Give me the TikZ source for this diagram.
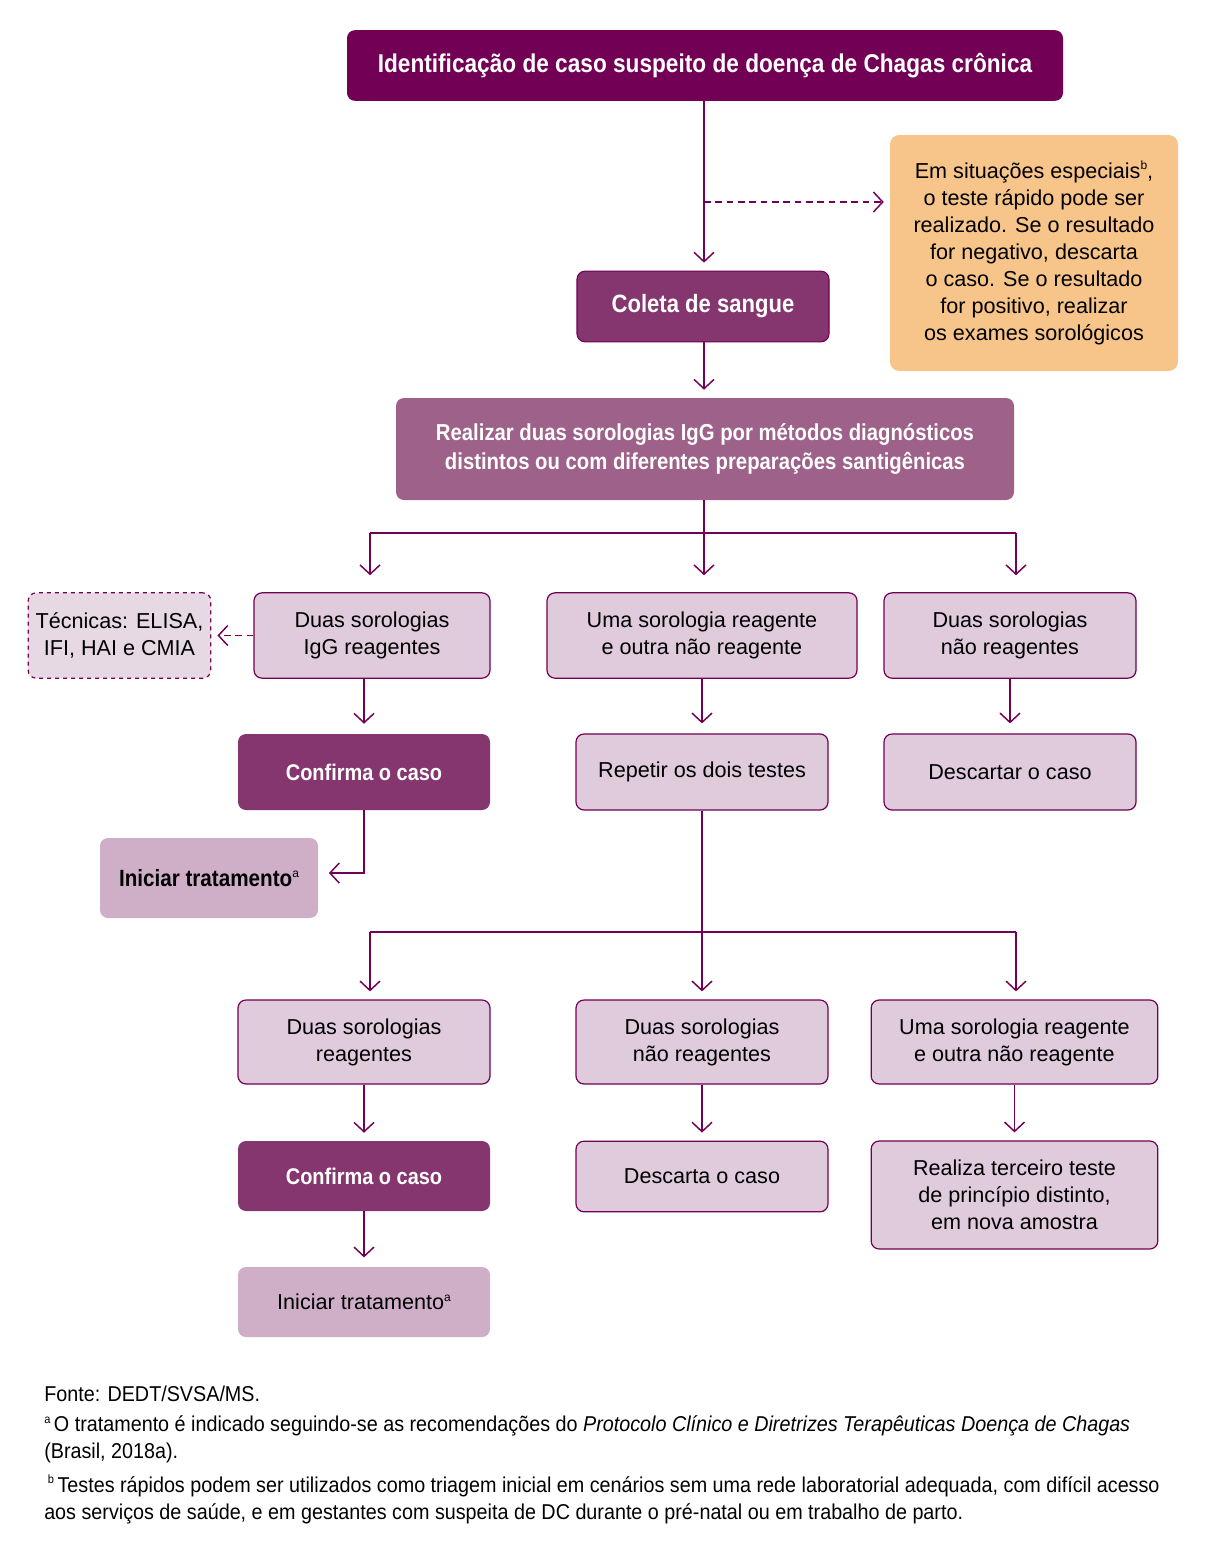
\documentclass[tikz,border=0pt]{standalone}
\usepackage{fontspec}
\setmainfont{Liberation Sans}[BoldFeatures={FakeStretch=0.88}]
\newfontfamily\notefont{Liberation Sans}[FakeStretch=0.92]
\usetikzlibrary{positioning, arrows.meta, calc}
\definecolor{plum}{HTML}{720054}
\definecolor{plummid}{HTML}{85366F}
\definecolor{plumsoft}{HTML}{9E6189}
\definecolor{lilac}{HTML}{DFCBDC}
\definecolor{lilacpale}{HTML}{E7D9E4}
\definecolor{mauve}{HTML}{CFAFC8}
\definecolor{peach}{HTML}{F7C48A}
\newcommand{\linecolor}{plum}
\newcommand{\boxfont}{\fontsize{16.2}{20.25}\selectfont}
\newcommand{\nota}[1]{\raisebox{0.75ex}{\fontsize{9}{9}\selectfont\mdseries #1}}
\tikzset{
	box/.style={rectangle, rounded corners=6pt, align=center, inner sep=3pt, font=\boxfont},
	titlebox/.style={box, fill=plum, text=white, font=\fontsize{19.3}{22}\selectfont\bfseries},
	midbox/.style={box, fill=plummid, text=white, font=\fontsize{17}{21}\selectfont\bfseries},
	softbox/.style={box, fill=plumsoft, text=white, font=\fontsize{17.3}{21.5}\selectfont\bfseries},
	lightbox/.style={box, fill=lilac, draw=\linecolor, line width=0.9pt},
	pastebox/.style={box, fill=mauve},
	notebox/.style={box, fill=peach, rounded corners=7pt},
	tecbox/.style={box, fill=lilacpale, draw=\linecolor, line width=0.9pt, dashed},
	link/.style={draw=\linecolor, line width=1.1pt},
	arr/.style={link, -{Straight Barb[length=7pt,width=15pt,line width=1.1pt]}, shorten >=6pt},
	dasharr/.style={arr, dash pattern=on 5pt off 3.5pt, shorten >=4.5pt},
	footnote/.style={font=\notefont\fontsize{16.1}{20.25}\selectfont, align=left, inner sep=0pt}
}
\begin{document}
\begin{tikzpicture}[x=0.75pt,y=-0.75pt]
	\useasboundingbox (0,0) rectangle (1216,1556);
	%% topo
	\node[titlebox, minimum width=537pt, minimum height=53pt] (ident) at (705,65.5) {Identificação de caso suspeito de doença de Chagas crônica};
	\node[notebox, minimum width=216pt, minimum height=177pt] (rapido) at (1034,253) {Em situações especiais\nota{b},\\o teste rápido pode ser\\realizado. Se o resultado\\for negativo, descarta\\o caso. Se o resultado\\for positivo, realizar\\os exames sorológicos};
	\node[midbox, draw=plum, line width=0.8pt, font=\fontsize{18.8}{22}\selectfont\bfseries, minimum width=189pt, minimum height=53pt] (coleta) at (703,306.5) {Coleta de sangue};
	\node[softbox, minimum width=463.5pt, minimum height=76.5pt] (sorol) at (705,449) {Realizar duas sorologias IgG por métodos diagnósticos\\distintos ou com diferentes preparações santigênicas};
	%% primeira triagem
	\node[lightbox, minimum width=177pt, minimum height=64pt] (igg) at (372,635.5) {Duas sorologias\\IgG reagentes};
	\node[lightbox, minimum width=232.5pt, minimum height=64pt] (uma1) at (702,635.5) {Uma sorologia reagente\\e outra não reagente};
	\node[lightbox, minimum width=189pt, minimum height=64pt] (nao1) at (1010,635.5) {Duas sorologias\\não reagentes};
	\node[tecbox, minimum width=137pt, minimum height=64pt] (tecn) at (119.5,635.5) {Técnicas: ELISA,\\IFI, HAI e CMIA};
	%%
	\node[midbox, minimum width=189pt, minimum height=57pt] (conf1) at (364,772) {Confirma o caso};
	\node[lightbox, minimum width=189pt, minimum height=57pt] (repet) at (702,772) {Repetir os dois testes};
	\node[lightbox, minimum width=189pt, minimum height=57pt] (desc1) at (1010,772) {Descartar o caso};
	\node[pastebox, font=\fontsize{17.6}{21}\selectfont\bfseries, minimum width=163.5pt, minimum height=60pt] (trat1) at (209,878) {Iniciar tratamento\nota{a}};
	%% segunda triagem
	\node[lightbox, minimum width=189pt, minimum height=63pt] (reag) at (364,1042) {Duas sorologias\\reagentes};
	\node[lightbox, minimum width=189pt, minimum height=63pt] (nao2) at (702,1042) {Duas sorologias\\não reagentes};
	\node[lightbox, minimum width=215pt, minimum height=63pt] (uma2) at (1014.5,1042) {Uma sorologia reagente\\e outra não reagente};
	%%
	\node[midbox, minimum width=189pt, minimum height=52.5pt] (conf2) at (364,1176) {Confirma o caso};
	\node[lightbox, minimum width=189pt, minimum height=53pt] (desc2) at (702,1176.5) {Descarta o caso};
	\node[lightbox, minimum width=215pt, minimum height=81pt] (terc) at (1014.5,1195) {Realiza terceiro teste\\de princípio distinto,\\em nova amostra};
	\node[pastebox, minimum width=189pt, minimum height=52.5pt] (trat2) at (364,1302) {Iniciar tratamento\nota{a}};
	
	%% conectores
	\coordinate (split) at (704,202);
	\draw[arr] (ident.south -| split) -- (split |- coleta.north);
	\draw[dasharr] (split) -- (split -| rapido.west);
	\draw[arr] (coleta.south -| split) -- (split |- sorol.north);
	
	\coordinate (bus1) at (704,533);
	\coordinate (b1l) at (370,533);
	\coordinate (b1r) at (1016,533);
	\draw[link] (sorol.south -| bus1) -- (bus1);
	\draw[link] (b1l) -- (b1r);
	\foreach \c/\n in {b1l/igg,bus1/uma1,b1r/nao1} {
		\draw[arr, shorten >=12.75pt] (\c) -- (\c |- \n.north);
	}
	\draw[dasharr] (igg.west) -- (tecn.east);
	
	\foreach \i/\j in {igg/conf1,uma1/repet,nao1/desc1} {
		\draw[arr, shorten >=7.5pt] (\i.south -| \j.north) -- (\j.north);
	}
	\draw[arr, shorten >=8pt] (conf1.south) |- ($(trat1.east)+(0,-5)$);
	
	\coordinate (bus2) at (702,932);
	\coordinate (b2l) at (370,932);
	\coordinate (b2r) at (1016,932);
	\draw[link] (repet.south) -- (bus2);
	\draw[link] (b2l) -- (b2r);
	\foreach \c/\n in {b2l/reag,bus2/nao2,b2r/uma2} {
		\draw[arr] (\c) -- (\c |- \n.north);
	}
	\foreach \i/\j in {reag/conf2,nao2/desc2,uma2/terc} {
		\draw[arr] (\i.south) -- (\j.north);
	}
	\draw[arr, shorten >=7pt] (conf2.south) -- (trat2.north);
	
	%% rodape
	\node[footnote, anchor=west] (fonte) at (44,1394) {Fonte: DEDT/SVSA/MS.};
	\node[footnote, anchor=west] (notaa) at (44,1439.5) {\nota{a}\,O tratamento é indicado seguindo-se as recomendações do \textit{Protocolo Clínico e Diretrizes Terapêuticas Doença de Chagas}\\(Brasil, 2018a).};
	\node[footnote, anchor=west] (notab) at (44,1499.5) {\,\nota{b}\,Testes rápidos podem ser utilizados como triagem inicial em cenários sem uma rede laboratorial adequada, com difícil acesso\\aos serviços de saúde, e em gestantes com suspeita de DC durante o pré-natal ou em trabalho de parto.};
\end{tikzpicture}
\end{document}
